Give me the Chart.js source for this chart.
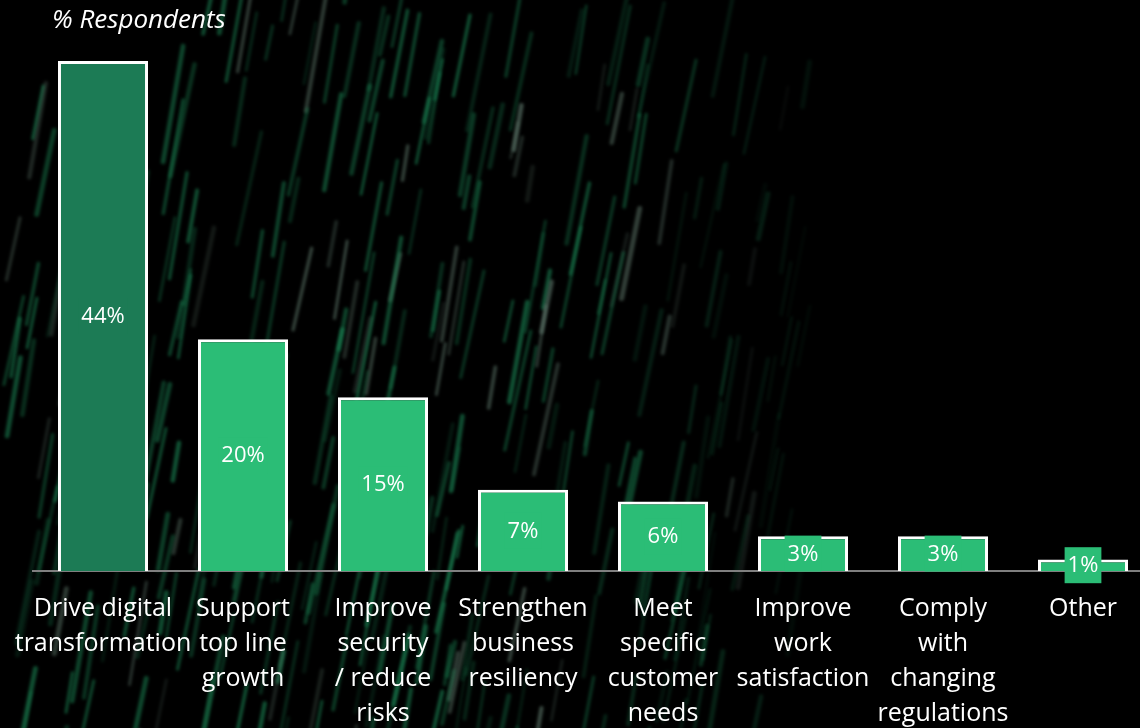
<!DOCTYPE html>
<html>
<head>
<meta charset="utf-8">
<title>Reasons for investment</title>
<script src="https://cdn.jsdelivr.net/npm/chart.js@4.4.1/dist/chart.umd.min.js"></script>
<style>
  html, body { margin: 0; padding: 0; background: #000; overflow: hidden; }
  #wrap { width: 1140px; height: 728px; overflow: hidden; position: relative; }
  canvas { display: block; }
</style>
</head>
<body>
<div id="wrap"><canvas id="reasons" width="1160" height="728"></canvas></div>
<script>
// categories (multi-line labels) and share of respondents
const categories = [
    ['Drive digital', 'transformation'],
    ['Support', 'top line', 'growth'],
    ['Improve', 'security', '/ reduce', 'risks'],
    ['Strengthen', 'business', 'resiliency'],
    ['Meet', 'specific', 'customer', 'needs'],
    ['Improve', 'work', 'satisfaction'],
    ['Comply', 'with', 'changing', 'regulations'],
    ['Other']
];
const respondents = [44, 20, 15, 7, 6, 3, 3, 1];
const barColors = ['#1c7b55', '#2bbd76', '#2bbd76', '#2bbd76', '#2bbd76', '#2bbd76', '#2bbd76', '#2bbd76'];
const axisTitle = '% Respondents';

const FONT = '"Open Sans", "Noto Sans", sans-serif';

// dark backdrop with green rain streaks (decoration only)
const rainBackdrop = {
    id: 'rainBackdrop',
    beforeDraw(chart) {
        const ctx = chart.ctx;
        ctx.save();
        ctx.fillStyle = '#000';
        ctx.fillRect(0, 0, chart.width, chart.height);

        let seed = 11;
        const rnd = () => { seed = (seed * 16807) % 2147483647; return seed / 2147483647; };

        ctx.filter = 'blur(1.8px)';
        ctx.lineCap = 'round';
        for (let i = 0; i < 380; i++) {
            const x = 20 + 790 * Math.pow(rnd(), 1.05);
            const y = rnd() * 780 - 30;
            if (x < 160 && y < 70) continue;
            const len = 30 + rnd() * 90;
            const lean = 0.15 + rnd() * 0.08;
            const fade = x > 600 ? 1 - (x - 600) / 260 : 1;
            const a = (0.15 + rnd() * 0.4) * fade;
            const grey = rnd() < 0.15;
            ctx.strokeStyle = grey ? `rgba(110,140,125,${a})` : `rgba(30,150,95,${a})`;
            ctx.lineWidth = 2.5 + rnd() * 2.5;
            ctx.beginPath();
            ctx.moveTo(x, y);
            ctx.lineTo(x - len * lean, y + len);
            ctx.stroke();
        }
        ctx.restore();
    }
};

// value tags centred in each bar, on a patch of the bar's colour
const valueTags = {
    id: 'valueTags',
    afterDatasetsDraw(chart) {
        const ctx = chart.ctx;
        const ds = chart.data.datasets[0];
        const meta = chart.getDatasetMeta(0);
        ctx.save();
        ctx.font = '22px ' + FONT;
        ctx.textAlign = 'center';
        ctx.textBaseline = 'middle';
        meta.data.forEach((bar, i) => {
            const text = ds.data[i] + '%';
            const cy = (bar.y + bar.base) / 2;
            const w = ctx.measureText(text).width + 6;
            ctx.fillStyle = ds.backgroundColor[i];
            ctx.fillRect(bar.x - w / 2, cy - 18, w, 36);
            ctx.fillStyle = '#fff';
            ctx.fillText(text, bar.x, cy + 1);
        });
        ctx.restore();
    }
};

// italic unit caption in the top-left corner
const unitCaption = {
    id: 'unitCaption',
    afterDraw(chart) {
        const ctx = chart.ctx;
        ctx.save();
        ctx.font = 'italic 26px ' + FONT;
        ctx.fillStyle = '#fff';
        ctx.textAlign = 'left';
        ctx.textBaseline = 'middle';
        ctx.fillText(axisTitle, 52, 21);
        ctx.restore();
    }
};

new Chart(document.getElementById('reasons').getContext('2d'), {
    type: 'bar',
    data: {
        labels: categories,
        datasets: [{
            data: respondents,
            backgroundColor: barColors,
            borderColor: '#ffffff',
            borderWidth: 3,
            categoryPercentage: 1,
            barPercentage: 0.643
        }]
    },
    options: {
        responsive: false,
        animation: false,
        layout: { padding: { left: 33, right: 7, top: 61, bottom: 0 } },
        plugins: {
            legend: { display: false },
            tooltip: { enabled: false }
        },
        scales: {
            x: {
                grid: { display: false, drawTicks: false },
                border: { display: true, color: '#7f7f7f', width: 2 },
                ticks: {
                    color: '#ffffff',
                    font: { family: FONT, size: 25, lineHeight: 1.4 },
                    padding: 20,
                    autoSkip: false,
                    maxRotation: 0
                },
                afterFit(scale) {
                    scale.height = 157;
                    // long first/last labels may hang past the plot edges
                    scale.paddingLeft = 0;
                    scale.paddingRight = 0;
                }
            },
            y: {
                display: false,
                min: 0,
                max: 44
            }
        }
    },
    plugins: [rainBackdrop, valueTags, unitCaption]
});
</script>
</body>
</html>
